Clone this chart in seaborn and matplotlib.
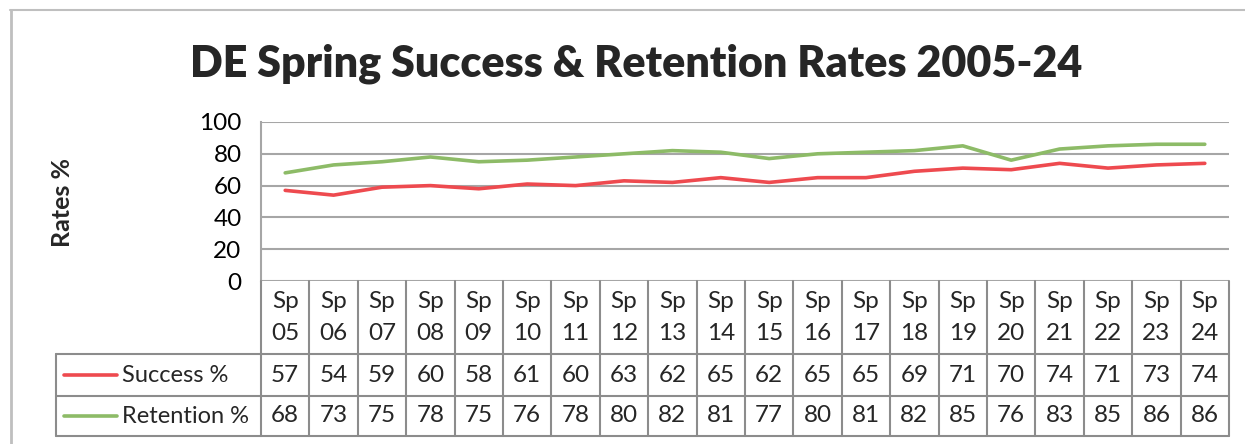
import matplotlib
matplotlib.use("Agg")
import matplotlib.pyplot as plt
from matplotlib.lines import Line2D
import pandas as pd
import seaborn as sns

terms = ["Sp\n05", "Sp\n06", "Sp\n07", "Sp\n08", "Sp\n09", "Sp\n10", "Sp\n11", "Sp\n12", "Sp\n13", "Sp\n14",
         "Sp\n15", "Sp\n16", "Sp\n17", "Sp\n18", "Sp\n19", "Sp\n20", "Sp\n21", "Sp\n22", "Sp\n23", "Sp\n24"]
success = [57, 54, 59, 60, 58, 61, 60, 63, 62, 65, 62, 65, 65, 69, 71, 70, 74, 71, 73, 74]
retention = [68, 73, 75, 78, 75, 76, 78, 80, 82, 81, 77, 80, 81, 82, 85, 76, 83, 85, 86, 86]
series_names = ["Success %", "Retention %"]
y_ticks = [0, 20, 40, 60, 80, 100]

colors = {"Success %": "#EE4A4F", "Retention %": "#8DBB67"}
grid_col = "#A6A6A6"
table_col = "#8C8C8C"

sns.set_theme(style="white")
plt.rcParams["font.family"] = ["Lato", "DejaVu Sans"]

W, H = 1245, 444
fig = plt.figure(figsize=(W / 100, H / 100), dpi=100)


def fx(x):
    return x / W


def fy(y):
    return 1 - y / H


df = pd.DataFrame({"idx": range(len(terms)), "Success %": success, "Retention %": retention})
long = df.melt(id_vars="idx", value_vars=series_names, var_name="series", value_name="rate")

# plot area
ax = fig.add_axes([fx(261), fy(281), fx(1229 - 261), (281 - 122) / H])
sns.lineplot(data=long, x="idx", y="rate", hue="series", palette=colors, linewidth=2.6,
             legend=False, ax=ax)
ax.set_xlim(-0.5, len(terms) - 0.5)
ax.set_ylim(0, 100)
ax.set_yticks(y_ticks)
ax.set_xticks([])
ax.set_xlabel("")
ax.set_ylabel("")
for t in y_ticks:
    ax.axhline(t, color=grid_col, lw=1.5, zorder=0)
for s in ["top", "right", "bottom"]:
    ax.spines[s].set_visible(False)
ax.spines["left"].set_color(grid_col)
ax.spines["left"].set_linewidth(1.5)
ax.tick_params(axis="y", labelsize=17.5, pad=14, length=0, colors="black")

fig.text(fx(62), fy(202), "Rates %", rotation=90, ha="center", va="center",
         fontsize=18, fontweight="bold")
fig.text(fx(636), fy(64), "DE Spring Success & Retention Rates 2005-24", ha="center", va="center",
         fontsize=31, fontweight="heavy")

# data table below the plot, sharing the category axis
tab = fig.add_axes([fx(261), fy(436), fx(1229 - 261), (436 - 281) / H], sharex=ax)
tab.set_ylim(155, 0)
tab.axis("off")
n = len(terms)
for i in range(n + 1):
    tab.plot([i - 0.5, i - 0.5], [0, 155], color=table_col, lw=1.5, clip_on=False)
for yy in [73, 115, 155]:
    tab.plot([-0.5, n - 0.5], [yy, yy], color=table_col, lw=1.5, clip_on=False)
for i, lab in enumerate(terms):
    top, bot = lab.split("\n")
    tab.text(i, 20, top, ha="center", va="center", fontsize=17.5)
    tab.text(i, 52, bot, ha="center", va="center", fontsize=17.5)
    tab.text(i, 94, str(success[i]), ha="center", va="center", fontsize=17.5)
    tab.text(i, 135, str(retention[i]), ha="center", va="center", fontsize=17.5)

# legend cell
for yy in [354, 396, 436]:
    fig.add_artist(Line2D([fx(56), fx(261)], [fy(yy), fy(yy)], color=table_col, lw=1.5))
fig.add_artist(Line2D([fx(56), fx(56)], [fy(354), fy(436)], color=table_col, lw=1.5))
for name, yy in zip(series_names, [375, 416]):
    fig.add_artist(Line2D([fx(64), fx(117)], [fy(yy), fy(yy)], color=colors[name], lw=2.6,
                          solid_capstyle="round"))
    fig.text(fx(122), fy(yy), name, ha="left", va="center", fontsize=17)

# chart border
fig.add_artist(Line2D([fx(11), fx(11)], [fy(10), 0], color="#BFBFBF", lw=2))
fig.add_artist(Line2D([fx(10), 1], [fy(10), fy(10)], color="#BFBFBF", lw=1.5))

fig.savefig("out.png", dpi=100)
